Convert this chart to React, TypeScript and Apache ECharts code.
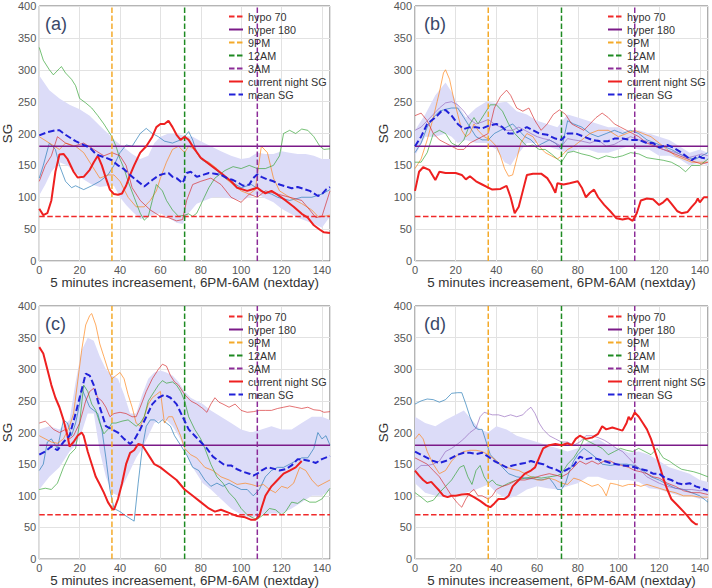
import React, { useEffect, useRef } from "react";
import * as echarts from "echarts";

type P = [number, number][];

// ---------- shared ----------
const legendNames = ["hypo 70", "hyper 180", "9PM", "12AM", "3AM", "current night SG", "mean SG"];
const panelLabels = ["(a)", "(b)", "(c)", "(d)"];
const xName = "5 minutes increasement, 6PM-6AM (nextday)";
const yName = "SG";
const hypo = 70;
const hyper = 180;
const pm9 = 36;
const am12 = 72;
const am3 = 108;
const xMax = 144;
const yMax = 400;
const nightColors = ["#1f77b4", "#ff7f0e", "#2ca02c", "#d62728", "#9467bd"];

// ---------- panel (a) ----------
const aCurrent: P = [[0,82],[2,72],[4,75],[6,95],[8,140],[10,167],[12,168],[14,160],[17,140],[19,131],[22,132],[25,143],[27,155],[29,165],[31,150],[33,130],[35,112],[37,105],[39,104],[41,106],[43,118],[45,135],[47,150],[50,170],[53,180],[56,195],[58,210],[60,215],[62,215],[64,220],[66,210],[68,198],[70,190],[72,195],[74,190],[77,175],[80,162],[85,150],[90,138],[95,125],[98,115],[103,110],[106,113],[108,115],[110,110],[112,106],[115,110],[118,104],[122,95],[126,85],[130,74],[133,68],[136,56],[139,49],[141,45],[144,44]];
const aMean: P = [[0,197],[4,202],[8,205],[10,205],[13,198],[18,188],[22,182],[25,178],[28,168],[30,165],[33,162],[36,158],[39,150],[42,144],[45,135],[48,127],[52,117],[54,122],[56,127],[59,134],[62,137],[64,138],[66,132],[68,130],[71,122],[73,138],[75,140],[78,132],[81,135],[84,138],[87,137],[90,135],[93,130],[96,127],[99,122],[101,118],[104,120],[106,130],[108,136],[110,132],[113,128],[116,125],[119,120],[122,117],[125,114],[128,116],[131,113],[134,110],[136,106],[138,102],[140,105],[142,112],[144,116]];
const aUpper: P = [[0,291],[5,268],[10,255],[15,245],[20,238],[25,228],[30,212],[34,200],[38,188],[42,178],[46,168],[50,160],[54,165],[57,185],[60,195],[64,200],[68,200],[72,196],[76,195],[80,188],[85,180],[90,172],[95,165],[100,160],[104,162],[108,170],[112,168],[116,168],[120,172],[124,170],[128,168],[132,168],[136,165],[140,160],[144,160]];
const aLower: P = [[0,103],[3,120],[6,140],[10,155],[14,150],[18,138],[22,128],[26,120],[30,116],[34,118],[37,118],[40,100],[43,88],[46,78],[50,66],[53,68],[56,72],[60,75],[64,68],[68,60],[71,58],[74,75],[78,90],[82,95],[86,100],[90,100],[95,98],[100,95],[104,100],[108,105],[112,98],[116,92],[120,82],[124,75],[128,68],[132,63],[136,58],[140,52],[144,70]];
const aNight1: P = [[0,130],[2,150],[5,185],[8,175],[10,150],[13,125],[16,115],[18,118],[22,112],[26,118],[30,125],[34,135],[37,150],[40,170],[43,182],[46,180],[50,200],[53,208],[56,200],[59,195],[62,188],[66,185],[70,190],[72,195],[74,203],[76,190],[78,170],[80,160],[85,150],[92,130],[100,115],[105,120],[110,110],[115,105],[118,100],[124,95],[130,100],[135,100],[140,105],[144,112]];
const aNight2: P = [[0,195],[5,185],[10,175],[13,185],[18,180],[22,170],[26,150],[30,130],[34,135],[37,135],[40,125],[44,100],[48,85],[52,85],[55,95],[58,110],[60,130],[63,155],[66,175],[69,180],[72,170],[74,180],[77,175],[80,160],[84,155],[88,145],[92,130],[96,120],[100,110],[104,105],[107,112],[110,180],[113,170],[116,130],[119,110],[124,100],[130,90],[135,80],[138,70],[141,70],[144,72]];
const aNight3: P = [[0,335],[2,315],[5,300],[7,292],[10,302],[11,305],[13,295],[16,285],[18,275],[20,255],[23,248],[26,240],[29,228],[32,215],[34,205],[36,195],[38,180],[40,160],[42,145],[44,125],[47,100],[50,75],[52,64],[54,70],[56,95],[58,120],[61,110],[63,95],[66,80],[69,70],[72,72],[74,74],[76,70],[78,75],[81,95],[84,115],[87,130],[92,142],[96,148],[100,145],[104,150],[108,145],[112,145],[116,150],[119,165],[121,200],[124,205],[127,200],[130,207],[133,205],[136,195],[139,180],[141,175],[144,176]];
const aNight4: P = [[0,125],[3,150],[6,165],[9,195],[13,185],[17,180],[22,185],[27,175],[32,165],[36,170],[40,165],[43,150],[46,115],[50,95],[55,80],[60,70],[64,68],[68,63],[71,65],[73,95],[76,120],[80,125],[85,130],[90,120],[95,100],[100,92],[104,105],[108,100],[112,110],[118,105],[124,100],[130,95],[134,80],[137,68],[140,70],[144,110]];

// ---------- panel (b) ----------
const bCurrent: P = [[0,110],[2,140],[4,147],[7,143],[10,127],[12,140],[15,138],[20,138],[23,135],[25,128],[27,133],[30,125],[33,120],[36,115],[38,112],[42,113],[45,118],[47,100],[49,75],[51,85],[53,110],[55,135],[58,137],[62,137],[65,130],[67,120],[69,107],[70,122],[73,120],[76,122],[80,125],[82,115],[84,100],[86,107],[88,112],[90,100],[93,88],[96,78],[99,67],[102,65],[105,67],[107,63],[109,75],[111,95],[114,98],[117,97],[120,88],[122,92],[124,98],[126,90],[129,78],[131,75],[134,77],[136,85],[138,92],[139,98],[140,92],[142,100],[144,100]];
const bMean: P = [[0,180],[3,195],[6,215],[10,225],[13,235],[15,237],[18,228],[21,215],[24,207],[27,210],[30,210],[33,208],[36,212],[40,215],[43,210],[46,200],[49,200],[52,205],[55,210],[58,205],[61,200],[65,198],[69,192],[72,190],[75,200],[79,200],[83,195],[87,190],[91,188],[95,188],[98,192],[102,192],[106,190],[110,190],[114,185],[117,185],[120,178],[124,182],[127,178],[130,172],[133,165],[136,158],[139,165],[141,162],[144,160]];
const bUpper: P = [[0,205],[5,230],[10,260],[15,280],[18,265],[21,245],[25,225],[30,240],[35,250],[40,248],[45,250],[50,235],[55,230],[60,220],[65,215],[70,210],[75,230],[80,225],[85,220],[90,215],[95,210],[100,210],[105,200],[110,205],[115,200],[120,195],[125,190],[130,180],[135,170],[140,175],[144,170]];
const bLower: P = [[0,165],[5,195],[10,195],[15,200],[18,195],[21,185],[25,190],[30,185],[35,185],[40,175],[44,155],[47,150],[50,165],[55,185],[60,185],[65,180],[70,175],[75,170],[80,175],[85,175],[90,170],[95,170],[100,175],[105,180],[110,175],[115,175],[120,165],[125,165],[130,160],[135,150],[140,155],[144,150]];
const bNight1: P = [[0,170],[3,185],[6,210],[9,225],[12,235],[15,238],[18,240],[21,240],[24,225],[27,210],[30,195],[33,190],[36,190],[39,200],[42,205],[45,210],[48,215],[51,205],[54,195],[57,190],[60,180],[63,185],[66,190],[69,185],[72,175],[75,220],[78,215],[82,210],[86,200],[90,195],[94,200],[98,205],[102,200],[106,205],[110,200],[114,190],[118,185],[122,180],[126,175],[130,168],[134,162],[138,160],[141,165],[144,170]];
const bNight2: P = [[0,145],[3,160],[6,190],[9,225],[12,265],[14,295],[15,300],[17,285],[19,255],[21,230],[23,205],[25,195],[27,200],[29,215],[31,205],[34,195],[37,190],[40,180],[42,165],[44,145],[46,133],[48,135],[50,160],[52,185],[55,200],[58,195],[61,180],[64,170],[67,165],[70,160],[72,165],[75,175],[78,180],[82,190],[86,200],[90,205],[95,205],[100,195],[104,200],[108,205],[112,200],[116,195],[120,185],[124,175],[128,165],[132,160],[136,155],[140,155],[144,155]];
const bNight3: P = [[0,155],[3,155],[6,170],[9,200],[12,205],[15,200],[18,185],[21,180],[24,190],[27,215],[29,225],[31,215],[34,230],[37,245],[40,245],[43,235],[46,215],[49,200],[52,190],[55,180],[58,182],[61,175],[64,175],[67,168],[70,160],[72,155],[75,170],[78,172],[82,168],[86,165],[90,160],[94,165],[98,162],[102,165],[106,170],[110,168],[114,162],[118,160],[122,158],[126,155],[130,148],[133,140],[136,150],[140,150],[144,160]];
const bNight4: P = [[0,228],[3,232],[6,220],[9,200],[12,190],[15,185],[18,180],[21,175],[24,175],[27,185],[30,190],[33,195],[36,200],[39,240],[42,258],[45,268],[47,260],[50,240],[53,235],[56,240],[59,220],[62,205],[65,215],[68,230],[71,237],[74,230],[77,215],[80,210],[83,205],[86,215],[89,225],[92,232],[95,225],[98,215],[101,210],[104,205],[107,200],[110,195],[114,185],[118,180],[122,175],[126,170],[130,165],[134,160],[138,155],[141,152],[144,155]];
const bNight5: P = [[0,205],[3,210],[6,220],[9,230],[12,240],[15,248],[18,250],[21,245],[24,235],[27,222],[30,215],[33,218],[36,222],[39,215],[42,210],[45,205],[48,205],[51,210],[54,205],[57,200],[60,195],[63,192],[66,190],[69,185],[72,180],[75,192],[78,190],[82,188],[86,185],[90,190],[94,180],[98,183],[102,190],[106,195],[110,190],[114,188],[118,180],[122,175],[126,172],[130,168],[134,162],[138,165],[141,168],[144,165]];

// ---------- panel (c) ----------
const cCurrent: P = [[0,335],[2,325],[4,300],[6,275],[8,255],[10,240],[12,220],[14,195],[15,178],[17,185],[19,195],[21,200],[22,195],[24,170],[26,150],[28,130],[30,118],[32,105],[34,90],[36,80],[37,78],[39,95],[41,120],[43,150],[45,168],[47,172],[49,182],[51,180],[53,170],[55,160],[57,150],[60,145],[64,135],[68,125],[72,110],[76,100],[80,90],[84,80],[87,75],[90,78],[94,73],[98,68],[102,66],[105,62],[107,62],[109,68],[110,80],[112,100],[115,115],[118,125],[121,135],[124,140],[127,145],[130,155]];
const cMean: P = [[0,165],[3,170],[6,178],[9,172],[12,185],[15,195],[18,230],[20,255],[22,280],[23,293],[25,290],[27,275],[29,250],[31,230],[33,210],[36,205],[39,200],[42,190],[45,182],[47,188],[50,205],[53,225],[56,245],[59,255],[62,260],[65,255],[68,245],[71,225],[74,205],[77,195],[80,185],[83,175],[86,162],[89,155],[92,148],[95,148],[98,142],[101,138],[104,135],[106,132],[108,135],[110,140],[113,145],[116,143],[119,140],[122,142],[125,148],[128,158],[131,157],[134,155],[137,152],[140,158],[144,163]];
const cUpper: P = [[0,205],[5,210],[10,205],[15,220],[18,280],[21,330],[24,350],[27,345],[30,320],[33,300],[36,290],[39,285],[42,260],[45,230],[48,230],[51,260],[54,285],[57,295],[60,298],[63,295],[66,290],[69,280],[72,265],[75,255],[78,250],[81,245],[85,235],[90,225],[95,215],[100,205],[105,200],[110,205],[115,210],[120,205],[125,205],[130,215],[135,225],[140,225],[144,220]];
const cLower: P = [[0,110],[5,130],[10,145],[15,170],[18,180],[21,200],[24,230],[27,230],[30,170],[33,130],[36,105],[39,100],[42,120],[45,140],[48,160],[51,175],[54,195],[57,215],[60,220],[63,220],[66,210],[69,195],[72,175],[75,150],[78,135],[81,120],[85,110],[90,95],[95,80],[100,70],[105,65],[110,70],[115,72],[120,72],[125,80],[130,90],[135,100],[140,100],[144,110]];
const cNight1: P = [[0,140],[2,150],[4,185],[6,190],[9,175],[12,220],[14,215],[16,195],[18,215],[20,245],[21,270],[23,255],[25,240],[27,235],[29,230],[31,205],[33,160],[35,110],[37,80],[40,75],[43,68],[46,62],[47,60],[49,120],[51,175],[53,210],[55,220],[57,220],[59,215],[61,220],[63,215],[65,210],[67,195],[70,180],[73,165],[76,145],[79,140],[82,125],[85,115],[88,120],[91,115],[94,120],[97,115],[100,110],[103,110],[106,100],[109,110],[112,130],[115,140],[118,145],[121,145],[124,150],[127,155],[130,160],[133,160],[136,175],[138,200],[140,190],[142,195],[144,180]];
const cNight2: P = [[0,195],[3,190],[6,185],[9,183],[12,190],[15,210],[17,230],[19,280],[21,330],[23,370],[25,385],[26,388],[28,370],[30,340],[32,320],[34,300],[36,285],[38,290],[40,295],[42,285],[44,260],[46,240],[48,215],[50,210],[52,225],[54,245],[56,255],[58,260],[60,265],[62,215],[64,225],[66,225],[68,210],[70,195],[72,175],[75,165],[78,160],[82,145],[86,140],[90,130],[94,125],[98,118],[102,120],[105,118],[108,115],[111,118],[114,110],[117,105],[120,115],[123,112],[126,120],[129,145],[132,140],[135,125],[138,115],[141,120],[144,125]];
const cNight3: P = [[0,110],[3,112],[6,110],[9,120],[12,145],[15,165],[18,175],[20,215],[22,275],[24,265],[26,245],[28,235],[30,215],[32,198],[34,205],[36,215],[38,215],[41,218],[44,220],[46,215],[48,210],[50,215],[52,225],[54,250],[57,265],[59,275],[61,282],[63,278],[66,280],[68,275],[70,265],[72,250],[74,225],[77,205],[80,190],[82,175],[85,150],[88,130],[91,120],[94,105],[97,95],[100,80],[103,70],[106,65],[108,63],[111,70],[114,80],[117,78],[120,70],[122,75],[125,90],[128,88],[131,95],[134,90],[137,90],[140,95],[144,112]];
const cNight4: P = [[0,215],[3,218],[5,212],[7,205],[10,200],[13,205],[15,190],[17,195],[20,215],[23,250],[25,265],[27,270],[29,255],[31,250],[33,240],[35,225],[37,230],[40,232],[43,230],[46,225],[48,225],[50,240],[53,265],[56,285],[59,300],[61,308],[63,305],[65,290],[67,280],[69,275],[72,260],[75,250],[78,245],[81,238],[83,232],[85,245],[87,255],[89,248],[91,245],[94,240],[97,245],[100,235],[103,232],[106,233],[109,235],[112,235],[115,235],[118,238],[121,240],[124,242],[127,240],[130,238],[133,240],[136,236],[139,235],[141,232],[144,233]];

// ---------- panel (d) ----------
const dCurrent: P = [[0,140],[2,132],[4,125],[6,120],[8,122],[10,115],[12,108],[14,100],[16,98],[18,100],[20,100],[23,102],[26,103],[29,98],[32,92],[35,85],[37,82],[39,88],[41,95],[44,95],[46,100],[48,115],[51,125],[54,135],[57,140],[59,145],[61,160],[63,175],[66,180],[69,182],[72,180],[75,183],[77,180],[79,190],[81,195],[84,190],[87,192],[90,198],[92,210],[94,205],[97,208],[100,205],[102,203],[104,215],[105,225],[106,220],[107,225],[108,232],[110,225],[112,215],[114,205],[116,190],[118,170],[120,150],[122,128],[124,110],[126,95],[129,85],[132,75],[134,68],[136,60],[138,55],[139,55]];
const dMean: P = [[0,170],[3,165],[6,160],[9,155],[12,152],[15,155],[18,160],[21,165],[24,168],[27,168],[30,166],[33,168],[36,162],[39,155],[42,150],[45,145],[48,148],[51,150],[54,152],[57,155],[60,152],[63,150],[66,145],[69,142],[72,137],[75,142],[78,148],[81,162],[84,158],[87,160],[90,158],[93,155],[96,152],[99,150],[102,148],[105,147],[108,145],[111,142],[114,140],[117,135],[120,135],[123,128],[126,125],[129,120],[132,118],[135,120],[138,115],[141,112],[144,108]];
const dUpper: P = [[0,225],[5,215],[10,210],[15,220],[20,228],[24,235],[28,220],[32,205],[36,200],[40,210],[45,205],[50,195],[55,190],[60,185],[65,180],[70,175],[75,170],[80,175],[85,185],[90,190],[95,180],[100,175],[105,168],[110,170],[115,165],[120,155],[125,145],[130,140],[135,135],[140,125],[144,122]];
const dLower: P = [[0,120],[5,105],[10,100],[15,98],[20,102],[25,105],[30,110],[36,118],[40,105],[45,95],[50,100],[55,110],[60,115],[65,112],[70,110],[75,115],[80,120],[85,130],[90,130],[95,125],[100,125],[105,125],[110,122],[115,112],[120,110],[125,105],[130,100],[135,100],[140,95],[144,95]];
const dNight1: P = [[0,245],[3,250],[6,253],[9,252],[12,248],[15,252],[18,262],[21,263],[23,263],[25,245],[27,225],[29,210],[31,205],[33,205],[35,185],[37,165],[40,155],[43,145],[46,135],[50,130],[54,128],[58,127],[62,125],[66,128],[68,120],[70,110],[72,110],[74,120],[76,140],[78,155],[80,165],[83,175],[86,168],[89,160],[92,150],[96,148],[100,150],[104,150],[108,148],[112,140],[116,130],[120,125],[124,118],[128,112],[132,110],[136,105],[140,100],[144,90]];
const dNight2: P = [[0,190],[2,198],[4,190],[6,170],[9,150],[12,135],[15,140],[18,155],[21,165],[24,170],[27,172],[30,172],[33,170],[36,165],[39,158],[42,150],[45,145],[48,142],[51,140],[54,135],[57,130],[60,125],[63,125],[66,128],[69,125],[72,120],[75,118],[78,128],[81,125],[84,120],[87,115],[90,118],[92,112],[94,100],[96,120],[99,118],[102,115],[105,118],[108,118],[111,115],[114,118],[117,115],[120,112],[124,108],[128,105],[132,100],[136,100],[140,98],[144,98]];
const dNight3: P = [[0,105],[3,98],[6,90],[9,93],[12,105],[15,115],[18,125],[20,135],[22,145],[24,148],[26,130],[28,118],[30,140],[32,148],[34,130],[36,120],[38,125],[40,118],[43,115],[46,120],[50,125],[54,128],[58,130],[62,128],[66,130],[70,132],[72,135],[75,150],[78,160],[81,175],[83,190],[86,185],[89,180],[92,175],[95,165],[98,170],[101,175],[104,172],[107,170],[110,175],[113,170],[116,165],[119,175],[122,160],[125,155],[128,148],[131,142],[134,140],[137,138],[140,135],[144,130]];
const dNight4: P = [[0,160],[3,155],[6,150],[9,140],[12,130],[15,115],[18,100],[21,88],[23,82],[25,95],[27,105],[29,110],[31,100],[33,100],[36,95],[38,100],[40,110],[43,115],[46,118],[50,125],[54,125],[58,128],[62,132],[66,135],[70,132],[72,130],[75,135],[78,145],[81,155],[84,150],[87,155],[90,150],[93,155],[96,155],[99,150],[102,148],[105,145],[108,140],[111,138],[114,135],[117,130],[120,128],[124,120],[128,115],[132,108],[136,105],[140,105],[144,102]];
const dNight5: P = [[0,140],[3,148],[6,148],[9,150],[12,155],[15,170],[18,175],[21,182],[24,190],[27,200],[30,207],[32,225],[34,232],[36,230],[38,228],[41,228],[44,225],[47,228],[50,225],[53,228],[55,235],[57,240],[59,230],[61,215],[63,205],[66,195],[69,190],[72,185],[75,185],[78,180],[81,185],[84,195],[87,195],[90,192],[93,188],[96,182],[99,175],[102,170],[105,160],[108,150],[111,140],[114,130],[117,125],[120,120],[124,115],[128,112],[132,110],[136,110],[140,108],[144,110]];

const panels = [
  { current: aCurrent, mean: aMean, upper: aUpper, lower: aLower, nights: [aNight1, aNight2, aNight3, aNight4] },
  { current: bCurrent, mean: bMean, upper: bUpper, lower: bLower, nights: [bNight1, bNight2, bNight3, bNight4, bNight5] },
  { current: cCurrent, mean: cMean, upper: cUpper, lower: cLower, nights: [cNight1, cNight2, cNight3, cNight4] },
  { current: dCurrent, mean: dMean, upper: dUpper, lower: dLower, nights: [dNight1, dNight2, dNight3, dNight4, dNight5] },
];

const gridPos = [
  { left: 36, top: 6 },
  { left: 415, top: 6 },
  { left: 36, top: 306 },
  { left: 415, top: 306 },
];
const GW = 294;
const GH = 255;
const FONT = '"Liberation Sans", Arial, Helvetica, sans-serif';

function buildOption() {
  const grid: any[] = [];
  const xAxis: any[] = [];
  const yAxis: any[] = [];
  const legend: any[] = [];
  const series: any[] = [];
  const graphic: any[] = [];

  panels.forEach((p, i) => {
    const g = gridPos[i];
    grid.push({ left: g.left, top: g.top, width: GW, height: GH, show: true, borderColor: "#6a6a6a", borderWidth: 1, backgroundColor: "transparent" });
    xAxis.push({
      gridIndex: i, type: "value", min: 0, max: xMax, interval: 20,
      name: xName, nameLocation: "middle", nameGap: 12,
      nameTextStyle: { fontSize: 13.4, color: "#333", fontFamily: FONT },
      axisLine: { show: false }, axisTick: { show: false },
      axisLabel: { margin: 3, fontSize: 11, color: "#555", fontFamily: FONT, formatter: (v: number) => (v % 20 === 0 ? String(v) : "") },
      splitLine: { show: true, lineStyle: { color: "#e2e2e2", width: 1 } },
    });
    yAxis.push({
      gridIndex: i, type: "value", min: 0, max: yMax, interval: 50,
      name: yName, nameLocation: "middle", nameGap: 20, nameRotate: 90,
      nameTextStyle: { fontSize: 13.4, color: "#333", fontFamily: FONT },
      axisLine: { show: false }, axisTick: { show: false },
      axisLabel: { margin: 3, fontSize: 11, color: "#555", fontFamily: FONT },
      splitLine: { show: true, lineStyle: { color: "#e2e2e2", width: 1 } },
    });
    legend.push({
      orient: "vertical", left: g.left + 192, top: g.top + 4, padding: 0,
      itemWidth: 14, itemHeight: 8, itemGap: 0, selectedMode: false,
      itemStyle: { color: "transparent", borderColor: "transparent", borderWidth: 0, opacity: 0 },
      textStyle: { fontSize: 10.8, color: "#333", lineHeight: 13, fontFamily: FONT },
      data: legendNames,
    });
    graphic.push({
      type: "text", x: g.left + 9, y: g.top + 18, z: 100,
      style: { text: panelLabels[i], fontSize: 18, fill: "#3a4868", fontFamily: FONT, verticalAlign: "middle" },
    });

    const upper = p.upper;
    const lower = p.lower;
    series.push({
      type: "custom", xAxisIndex: i, yAxisIndex: i, silent: true, z: 1, clip: true,
      data: [[0, 0]],
      renderItem: (_params: any, api: any) => {
        const pts = upper.map((d) => api.coord(d)).concat(lower.slice().reverse().map((d) => api.coord(d)));
        return { type: "polygon", shape: { points: pts }, style: { fill: "#dcdcf8" } };
      },
    });
    p.nights.forEach((n, k) => {
      series.push({
        type: "line", name: `night ${k + 1}`, xAxisIndex: i, yAxisIndex: i, data: n, symbol: "none", z: 2,
        lineStyle: { color: nightColors[k], width: 1, opacity: 0.65 }, itemStyle: { color: nightColors[k] },
      });
    });
    const ref = (name: string, data: P, color: string, type: any, width = 1.5) => ({
      type: "line", name, xAxisIndex: i, yAxisIndex: i, data, symbol: "none", z: 3,
      lineStyle: { color, width, type }, itemStyle: { color },
    });
    series.push(ref("hypo 70", [[0, hypo], [xMax, hypo]], "#f02a2a", [5.5, 2.5]));
    series.push(ref("hyper 180", [[0, hyper], [xMax, hyper]], "#7b1a88", "solid"));
    series.push(ref("9PM", [[pm9, 0], [pm9, yMax]], "#f4aa2a", [5.5, 2.5]));
    series.push(ref("12AM", [[am12, 0], [am12, yMax]], "#1e8a22", [5.5, 2.5]));
    series.push(ref("3AM", [[am3, 0], [am3, yMax]], "#8c2c98", [5.5, 2.5]));
    series.push(ref("current night SG", p.current, "#ee2020", "solid", 2));
    series.push(ref("mean SG", p.mean, "#2121d8", [6.5, 3], 2));
  });

  return { animation: false, backgroundColor: "#ffffff", grid, xAxis, yAxis, legend, series, graphic };
}

export default function App() {
  const ref = useRef<HTMLDivElement>(null);
  useEffect(() => {
    document.body.style.margin = "0";
    if (!ref.current) return;
    const chart = echarts.init(ref.current, undefined, { renderer: "svg" });
    chart.setOption(buildOption() as any);
    return () => chart.dispose();
  }, []);
  return <div ref={ref} style={{ width: 712, height: 588 }} />;
}
